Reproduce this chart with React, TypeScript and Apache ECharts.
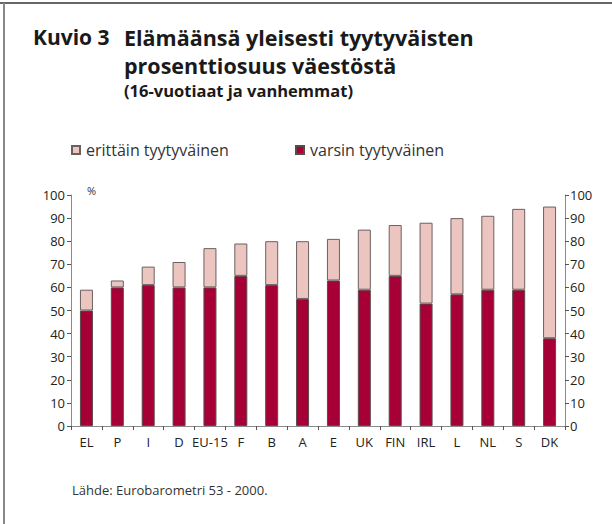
import React, { useEffect, useRef } from "react";
import * as echarts from "echarts";

const categories = ["EL", "P", "I", "D", "EU-15", "F", "B", "A", "E", "UK", "FIN", "IRL", "L", "NL", "S", "DK"];
const varsin = [50, 60, 61, 60, 60, 65, 61, 55, 63, 59, 65, 53, 57, 59, 59, 38];
const erittain = [9, 3, 8, 11, 17, 14, 19, 25, 18, 26, 22, 35, 33, 32, 35, 57];
const yTicks = { min: 0, max: 100, interval: 10 };

const FONT = "'Open Sans', 'DejaVu Sans', sans-serif";
const DARK = "#A60036";
const LIGHT = "#EDC5C0";

export default function App() {
  const ref = useRef<HTMLDivElement>(null);
  useEffect(() => {
    if (!ref.current) return;
    const chart = echarts.init(ref.current, undefined, { renderer: "svg" });
    const axisLine = { show: true, lineStyle: { color: "#8a8a8a", width: 1 } };
    const legendText = { fontSize: 16, color: "#333", fontFamily: FONT, padding: [0, 0, 0, 1] };
    chart.setOption({
      animation: false,
      backgroundColor: "#fff",
      textStyle: { fontFamily: FONT },
      grid: { left: 71, right: 47, top: 195, bottom: 98, containLabel: false },
      legend: [
        {
          data: ["erittäin tyytyväinen"],
          left: 71,
          top: 142,
          padding: 0,
          icon: "rect",
          itemWidth: 8,
          itemHeight: 8,
          textStyle: legendText,
        },
        {
          data: ["varsin tyytyväinen"],
          left: 295,
          top: 142,
          padding: 0,
          icon: "rect",
          itemWidth: 8,
          itemHeight: 8,
          textStyle: legendText,
        },
      ],
      xAxis: {
        type: "category",
        data: categories,
        boundaryGap: true,
        axisLine,
        axisTick: { show: true, interval: 0, length: 4, inside: false, lineStyle: { color: "#555" } },
        axisLabel: { interval: 0, fontSize: 13, color: "#222", margin: 9, fontFamily: FONT },
      },
      yAxis: [
        {
          type: "value",
          ...yTicks,
          position: "left",
          axisLine,
          axisTick: { show: true, length: 4, lineStyle: { color: "#555" } },
          splitLine: { show: false },
          axisLabel: { fontSize: 13, color: "#222", margin: 6, fontFamily: FONT },
        },
        {
          type: "value",
          ...yTicks,
          position: "right",
          axisLine,
          axisTick: { show: true, length: 4, lineStyle: { color: "#555" } },
          splitLine: { show: false },
          axisLabel: { fontSize: 13, color: "#222", margin: 5, fontFamily: FONT },
        },
      ],
      series: [
        {
          name: "varsin tyytyväinen",
          type: "bar",
          stack: "total",
          data: varsin,
          barWidth: 13,
          itemStyle: { color: DARK, borderColor: "#5a4a4a", borderWidth: 1 },
        },
        {
          name: "erittäin tyytyväinen",
          type: "bar",
          stack: "total",
          data: erittain,
          barWidth: 13,
          itemStyle: { color: LIGHT, borderColor: "#6a6060", borderWidth: 1 },
        },
      ],
      graphic: [
        { type: "line", shape: { x1: 0, y1: 3, x2: 612, y2: 3 }, style: { stroke: "#333", lineWidth: 1.5 } },
        { type: "line", shape: { x1: 4, y1: 3, x2: 4, y2: 524 }, style: { stroke: "#888", lineWidth: 2 } },
        {
          type: "text",
          left: 33,
          top: 26,
          style: { text: "Kuvio 3", font: `bold 21px ${FONT}`, fill: "#1a1a1a" },
        },
        {
          type: "text",
          left: 124,
          top: 26,
          style: { text: "Elämäänsä yleisesti tyytyväisten", font: `bold 21.5px ${FONT}`, fill: "#1a1a1a" },
        },
        {
          type: "text",
          left: 124,
          top: 54,
          style: { text: "prosenttiosuus väestöstä", font: `bold 21.5px ${FONT}`, fill: "#1a1a1a" },
        },
        {
          type: "text",
          left: 124,
          top: 82,
          style: { text: "(16-vuotiaat ja vanhemmat)", font: `bold 16.5px ${FONT}`, fill: "#1a1a1a" },
        },
        {
          type: "text",
          left: 87,
          top: 185,
          style: { text: "%", font: `11px ${FONT}`, fill: "#333" },
        },
        {
          type: "text",
          left: 72,
          top: 483,
          style: { text: "Lähde: Eurobarometri 53 - 2000.", font: `13px ${FONT}`, fill: "#333" },
        },
      ],
    });
    return () => chart.dispose();
  }, []);
  return (
    <div
      ref={ref}
      style={{ position: "fixed", left: 0, top: 0, width: 612, height: 524 }}
    />
  );
}
